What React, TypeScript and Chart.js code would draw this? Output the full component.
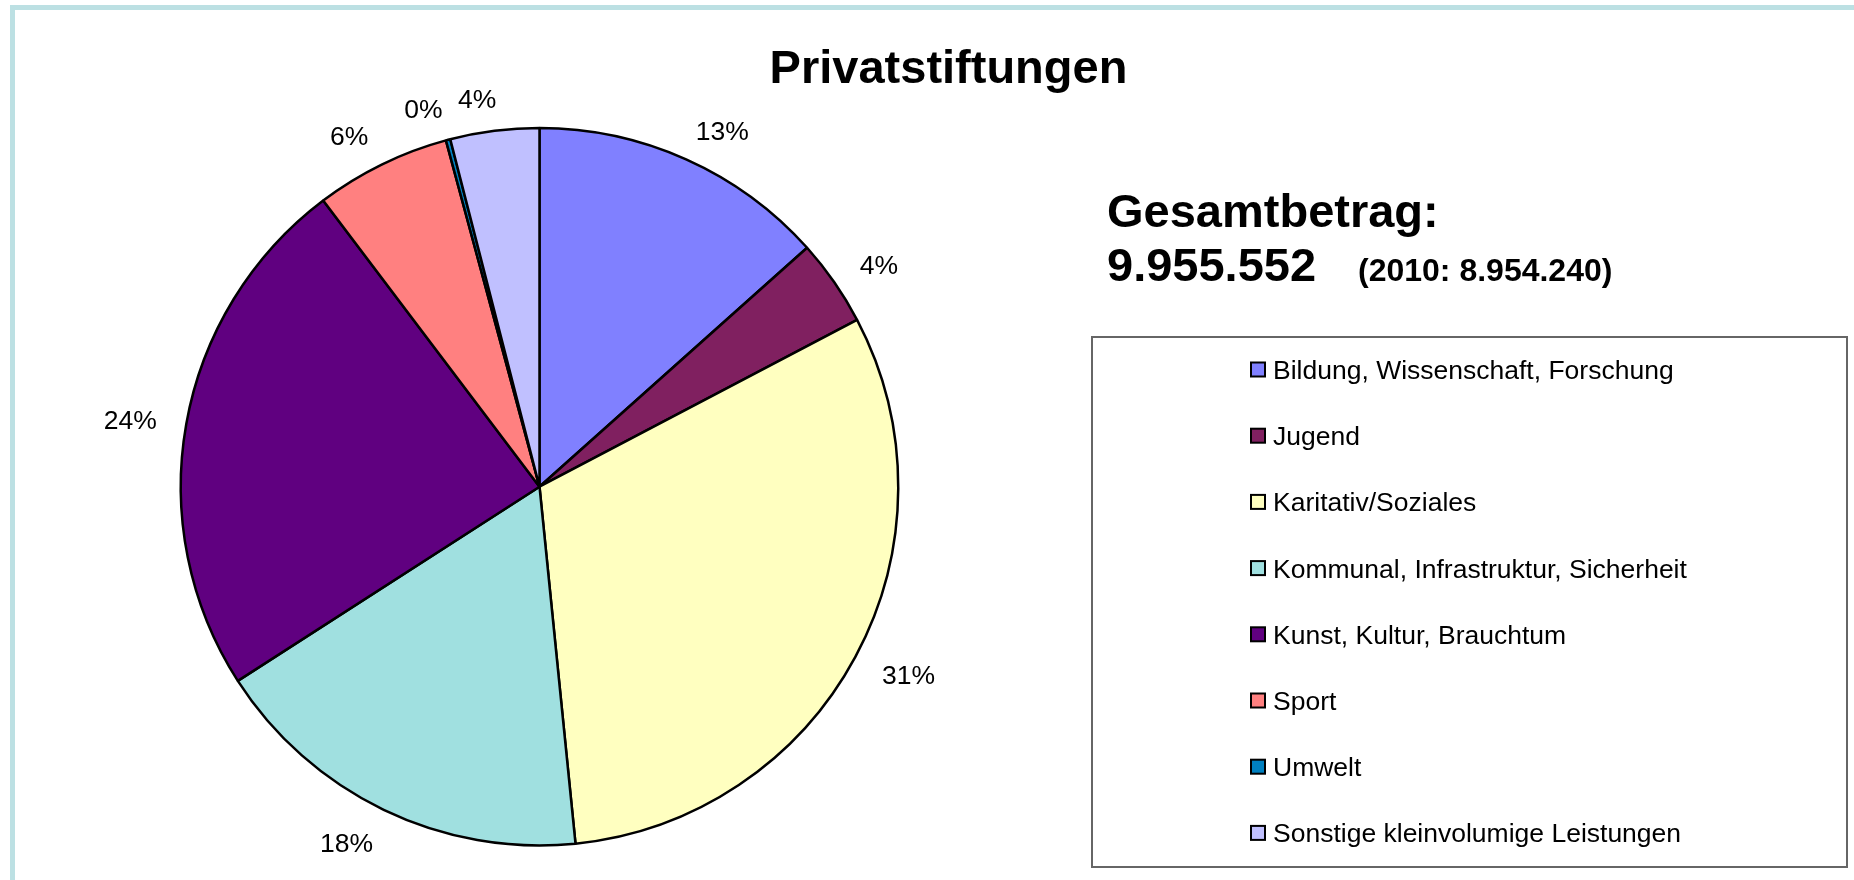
import React, { useEffect, useRef } from "react";
import { Chart, registerables } from "chart.js";

Chart.register(...registerables);

const TITLE = "Privatstiftungen";
const TOTAL_LABEL = "Gesamtbetrag:";
const TOTAL_VALUE = "9.955.552";
const PREV_YEAR = "(2010: 8.954.240)";

const categories = [
  "Bildung, Wissenschaft, Forschung",
  "Jugend",
  "Karitativ/Soziales",
  "Kommunal, Infrastruktur, Sicherheit",
  "Kunst, Kultur, Brauchtum",
  "Sport",
  "Umwelt",
  "Sonstige kleinvolumige Leistungen",
];

const shares = [13.4, 3.9, 31.1, 17.5, 23.8, 6.1, 0.2, 4.0];

const colors = [
  "#8080FF",
  "#802060",
  "#FFFFC0",
  "#A0E0E0",
  "#600080",
  "#FF8080",
  "#0080C0",
  "#C0C0FF",
];

const FONT = '"Liberation Sans", Arial, Helvetica, sans-serif';

const decorPlugin = {
  id: "decor",
  beforeDraw(chart: any) {
    const ctx = chart.ctx as CanvasRenderingContext2D;
    ctx.save();
    ctx.fillStyle = "#ffffff";
    ctx.fillRect(0, 0, chart.width, chart.height);
    ctx.fillStyle = "#BCE0E3";
    ctx.fillRect(10, 5, chart.width - 10, 5);
    ctx.fillRect(10, 5, 5, chart.height - 5);
    ctx.restore();
  },
  afterDraw(chart: any) {
    const ctx = chart.ctx as CanvasRenderingContext2D;
    ctx.save();
    ctx.fillStyle = "#000";
    ctx.textBaseline = "alphabetic";

    // Title
    ctx.font = `bold 47px ${FONT}`;
    ctx.textAlign = "center";
    ctx.fillText(TITLE, 948.5, 83);

    // Total amount
    ctx.textAlign = "left";
    ctx.fillText(TOTAL_LABEL, 1107, 227);
    ctx.fillText(TOTAL_VALUE, 1107, 281);
    ctx.font = `bold 32px ${FONT}`;
    ctx.fillText(PREV_YEAR, 1358, 281);

    // Percentage labels (outside end)
    const meta = chart.getDatasetMeta(0);
    const data = chart.data.datasets[0].data as number[];
    const total = data.reduce((a: number, b: number) => a + b, 0);
    ctx.font = `26.5px ${FONT}`;
    ctx.textAlign = "center";
    ctx.textBaseline = "middle";
    meta.data.forEach((arc: any, i: number) => {
      const p = arc.getProps(["x", "y", "startAngle", "endAngle", "outerRadius"], true);
      const mid = (p.startAngle + p.endAngle) / 2;
      const txt = Math.round((data[i] / total) * 100) + "%";
      const w = ctx.measureText(txt).width;
      const cx = Math.cos(mid);
      const sy = Math.sin(mid);
      const ex = p.x + cx * p.outerRadius;
      const ey = p.y + sy * p.outerRadius;
      const dx = Math.sign(cx) * Math.sqrt(Math.abs(cx)) * (w / 2 + 30);
      const dy = sy * 34;
      ctx.fillText(txt, ex + dx, ey + dy + 4);
    });

    // Legend box
    ctx.strokeStyle = "#666";
    ctx.lineWidth = 2;
    ctx.strokeRect(1092, 337, 755, 530);

    const labels = chart.data.labels as string[];
    const bg = chart.data.datasets[0].backgroundColor as string[];
    ctx.font = `26.5px ${FONT}`;
    ctx.textAlign = "left";
    ctx.textBaseline = "alphabetic";
    labels.forEach((lab: string, i: number) => {
      const cy = 369.5 + i * 66.2;
      ctx.fillStyle = bg[i];
      ctx.fillRect(1251, cy - 7, 14, 14);
      ctx.strokeStyle = "#000";
      ctx.lineWidth = 2;
      ctx.strokeRect(1251, cy - 7, 14, 14);
      ctx.fillStyle = "#000";
      ctx.fillText(lab, 1273, cy + 9.4);
    });
    ctx.restore();
  },
};

export default function App() {
  const canvasRef = useRef<HTMLCanvasElement | null>(null);

  useEffect(() => {
    document.body.style.margin = "0";
    document.body.style.overflow = "hidden";
    const canvas = canvasRef.current;
    if (!canvas) return;
    const chart = new Chart(canvas, {
      type: "pie",
      data: {
        labels: categories,
        datasets: [
          {
            data: shares,
            backgroundColor: colors,
            borderColor: "#000000",
            borderWidth: 2.5,
          },
        ],
      },
      options: {
        responsive: false,
        maintainAspectRatio: false,
        animation: false,
        layout: {
          padding: { left: 179.5, top: 126.7, right: 954.5, bottom: 33.3 },
        },
        plugins: {
          legend: { display: false },
          tooltip: { enabled: false },
          title: { display: false },
        },
      },
      plugins: [decorPlugin],
    });
    return () => chart.destroy();
  }, []);

  return (
    <div style={{ position: "absolute", left: 0, top: 0, width: 1854, height: 880 }}>
      <canvas ref={canvasRef} width={1854} height={880} style={{ width: 1854, height: 880 }} />
    </div>
  );
}
